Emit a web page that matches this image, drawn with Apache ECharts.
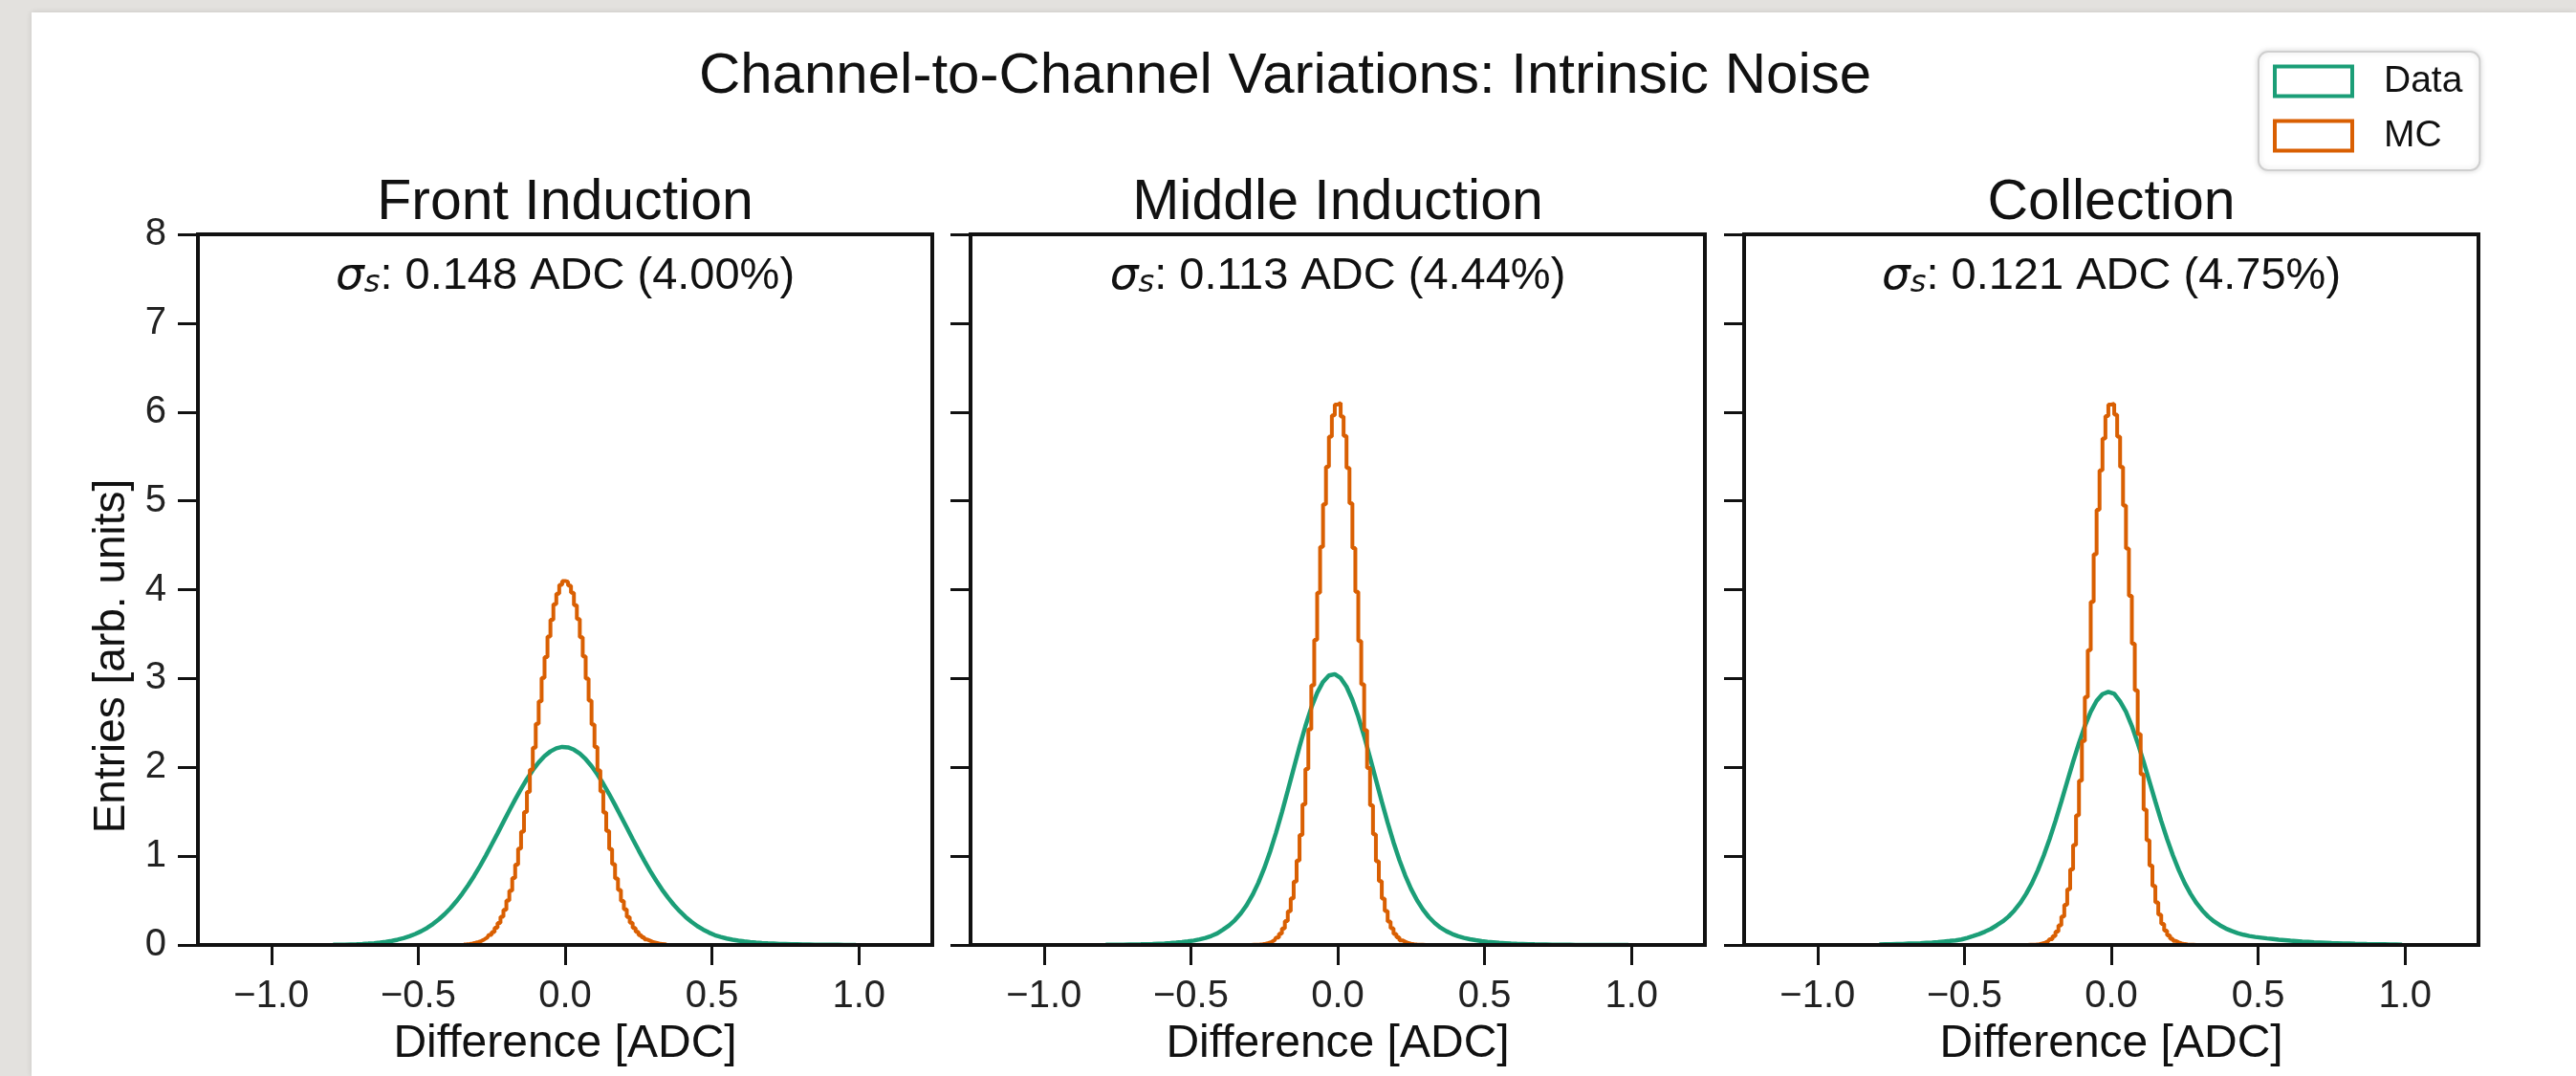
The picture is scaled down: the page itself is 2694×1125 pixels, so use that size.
<!DOCTYPE html>
<html>
<head>
<meta charset="utf-8">
<title>Channel-to-Channel Variations: Intrinsic Noise</title>
<script src="https://cdn.jsdelivr.net/npm/echarts@6/dist/echarts.min.js"></script>
<style>
  html, body { margin: 0; padding: 0; background: #e3e1de; overflow: hidden; }
  #card { position: absolute; left: 33px; top: 13px; width: 2661px; height: 1112px; background: #fff; box-shadow: 0 0 6px rgba(0,0,0,0.12); }
  #chart { position: absolute; left: 0; top: 0; width: 2694px; height: 1125px; }
</style>
</head>
<body>
<div id="card"></div>
<div id="chart"></div>
<script>
  // panels and labels
  var mainTitle = 'Channel-to-Channel Variations: Intrinsic Noise'
  var panelTitles = ['Front Induction', 'Middle Induction', 'Collection']
  var sigmaLabels = ['0.148 ADC (4.00%)', '0.113 ADC (4.44%)', '0.121 ADC (4.75%)']
  var xTicks = [-1.0, -0.5, 0.0, 0.5, 1.0]

  // histogram binning (first bin centre, bin width)
  var dataStart = -0.79, dataBin = 0.02
  var mcStart = -0.345, mcBin = 0.01

  // Data histograms (green), bin centres -0.79 .. 0.99
  var frontData = [
    0.002, 0.003, 0.004, 0.006, 0.008, 0.011, 0.015, 0.020, 0.027, 0.035,
    0.046, 0.060, 0.077, 0.098, 0.124, 0.155, 0.192, 0.236, 0.288, 0.347,
    0.415, 0.492, 0.578, 0.673, 0.776, 0.888, 1.006, 1.130, 1.256, 1.385,
    1.513, 1.638, 1.757, 1.868, 1.968, 2.055, 2.126, 2.179, 2.214, 2.230,
    2.224, 2.199, 2.155, 2.092, 2.013, 1.919, 1.814, 1.698, 1.576, 1.449,
    1.321, 1.193, 1.068, 0.947, 0.831, 0.724, 0.624, 0.534, 0.452, 0.380,
    0.316, 0.261, 0.213, 0.173, 0.139, 0.110, 0.090, 0.073, 0.060, 0.049,
    0.040, 0.033, 0.027, 0.022, 0.018, 0.015, 0.012, 0.010, 0.008, 0.007,
    0.006, 0.005, 0.004, 0.003, 0.003, 0.002, 0.002, 0.001, 0.001, 0.001
  ]
  var middleData = [
    0.002, 0.002, 0.003, 0.004, 0.005, 0.006, 0.007, 0.009, 0.011, 0.014,
    0.017, 0.021, 0.026, 0.032, 0.040, 0.050, 0.063, 0.080, 0.102, 0.130,
    0.173, 0.220, 0.279, 0.355, 0.448, 0.563, 0.701, 0.865, 1.052, 1.263,
    1.493, 1.737, 1.986, 2.232, 2.463, 2.670, 2.839, 2.962, 3.034, 3.048,
    3.005, 2.907, 2.759, 2.570, 2.350, 2.110, 1.861, 1.613, 1.376, 1.155,
    0.955, 0.780, 0.629, 0.503, 0.400, 0.315, 0.248, 0.195, 0.155, 0.123,
    0.098, 0.079, 0.064, 0.053, 0.043, 0.035, 0.030, 0.024, 0.020, 0.016,
    0.013, 0.011, 0.009, 0.007, 0.006, 0.005, 0.004, 0.003, 0.002, 0.002,
    0.001, 0.001, 0.001, 0.001, 0.001, 0, 0, 0, 0, 0
  ]
  var collectionData = [
    0.006, 0.007, 0.008, 0.010, 0.012, 0.015, 0.017, 0.020, 0.024, 0.028,
    0.033, 0.039, 0.045, 0.052, 0.062, 0.080, 0.100, 0.122, 0.150, 0.180,
    0.221, 0.265, 0.319, 0.388, 0.472, 0.575, 0.696, 0.841, 1.007, 1.193,
    1.396, 1.615, 1.839, 2.062, 2.273, 2.465, 2.626, 2.748, 2.824, 2.850,
    2.828, 2.741, 2.626, 2.465, 2.273, 2.062, 1.839, 1.615, 1.396, 1.193,
    1.007, 0.841, 0.696, 0.575, 0.472, 0.388, 0.319, 0.265, 0.221, 0.185,
    0.157, 0.134, 0.115, 0.101, 0.090, 0.082, 0.074, 0.067, 0.060, 0.054,
    0.048, 0.043, 0.038, 0.034, 0.030, 0.027, 0.024, 0.021, 0.019, 0.017,
    0.015, 0.013, 0.012, 0.010, 0.009, 0.008, 0.007, 0.006, 0.005, 0.004
  ]

  // MC histograms (orange), bin centres -0.345 .. 0.345
  var frontMC = [
    0.006, 0.008, 0.012, 0.017, 0.024, 0.034, 0.045, 0.063, 0.083, 0.113,
    0.146, 0.193, 0.247, 0.318, 0.397, 0.500, 0.612, 0.754, 0.904, 1.086,
    1.276, 1.497, 1.722, 1.974, 2.222, 2.491, 2.743, 3.008, 3.241, 3.472,
    3.661, 3.836, 3.955, 4.053, 4.098,
    4.090, 4.046, 3.964, 3.826, 3.669, 3.463, 3.250, 2.998, 2.751, 2.483,
    2.230, 1.966, 1.729, 1.490, 1.283, 1.080, 0.910, 0.748, 0.618, 0.495,
    0.401, 0.314, 0.250, 0.190, 0.149, 0.110, 0.085, 0.061, 0.047, 0.032,
    0.025, 0.016, 0.012, 0.008, 0.005
  ]
  var middleMC = [
    0, 0, 0, 0, 0, 0.001, 0.002, 0.003, 0.005, 0.008,
    0.013, 0.022, 0.035, 0.054, 0.084, 0.126, 0.186, 0.268, 0.379, 0.526,
    0.714, 0.950, 1.238, 1.582, 1.980, 2.429, 2.923, 3.436, 3.964, 4.481,
    4.961, 5.383, 5.723, 5.962, 6.084,
    6.101, 5.948, 5.731, 5.371, 4.972, 4.468, 3.975, 3.421, 2.935, 2.418,
    1.992, 1.571, 1.246, 0.943, 0.719, 0.521, 0.383, 0.264, 0.189, 0.124,
    0.086, 0.052, 0.036, 0.021, 0.014, 0.008, 0.005, 0.003, 0.002, 0.001,
    0, 0, 0, 0, 0
  ]
  var collectionMC = [
    0, 0, 0, 0, 0, 0, 0.001, 0.002, 0.003, 0.005,
    0.009, 0.016, 0.026, 0.041, 0.065, 0.100, 0.150, 0.222, 0.321, 0.451,
    0.628, 0.850, 1.126, 1.460, 1.849, 2.296, 2.791, 3.319, 3.862, 4.399,
    4.900, 5.343, 5.701, 5.954, 6.084,
    6.092, 5.970, 5.722, 5.381, 4.947, 4.462, 3.930, 3.392, 2.868, 2.375,
    1.921, 1.523, 1.180, 0.895, 0.664, 0.480, 0.343, 0.238, 0.162, 0.109,
    0.071, 0.045, 0.029, 0.018, 0.010, 0.006, 0.003, 0.002, 0.001, 0,
    0, 0, 0, 0, 0
  ]

  var dataSets = [frontData, middleData, collectionData]
  var mcSets = [frontMC, middleMC, collectionMC]

  var GREEN = '#1b9e77'
  var ORANGE = '#d95f02'
  var INK = '#111'
  var FONT = '"Liberation Sans", Arial, Helvetica, sans-serif'

  // layout of the three panels
  var gridLeft = [207, 1015, 1824]
  var gridWidth = 768
  var gridTop = 245
  var gridHeight = 743

  function hist (start, width, values) {
    return values.map(function (v, i) {
      return [+(start + i * width).toFixed(4), v]
    })
  }

  function fmtTick (v) {
    return v < 0 ? '\u2212' + (-v).toFixed(1) : Math.abs(v).toFixed(1)
  }

  var grids = [], xAxes = [], yAxes = [], series = []
  var titles = [{
    text: mainTitle, left: 1344, top: 50, textAlign: 'center', padding: 0,
    textStyle: { fontSize: 60, fontWeight: 'normal', color: INK, fontFamily: FONT }
  }]

  for (var i = 0; i < 3; i++) {
    var cx = gridLeft[i] + gridWidth / 2
    grids.push({
      left: gridLeft[i], top: gridTop, width: gridWidth, height: gridHeight,
      show: true, borderColor: INK, borderWidth: 4, backgroundColor: 'transparent'
    })
    xAxes.push({
      type: 'value', gridIndex: i, min: -1.25, max: 1.25, z: 10,
      name: 'Difference [ADC]', nameLocation: 'middle', nameGap: 80,
      nameTextStyle: { fontSize: 48, color: INK, fontFamily: FONT },
      axisLine: { show: true, onZero: false, lineStyle: { color: INK, width: 4 } },
      axisTick: { show: true, length: 21, customValues: xTicks, lineStyle: { color: INK, width: 3 } },
      axisLabel: { margin: 34, fontSize: 40, color: '#222', fontFamily: FONT, customValues: xTicks, formatter: fmtTick },
      splitLine: { show: false }
    })
    yAxes.push({
      type: 'value', gridIndex: i, min: 0, max: 8, interval: 1, z: 10,
      axisLine: { show: true, onZero: false, lineStyle: { color: INK, width: 4 } },
      axisTick: { show: true, length: 21, lineStyle: { color: INK, width: 3 } },
      axisLabel: { show: i === 0, margin: 33, fontSize: 40, color: '#222', fontFamily: FONT },
      splitLine: { show: false }
    })
    // Data: fine-binned, drawn through the bin centres
    series.push({
      name: 'Data', type: 'line', xAxisIndex: i, yAxisIndex: i,
      data: hist(dataStart, dataBin, dataSets[i]),
      showSymbol: false, symbol: 'none', silent: true, z: 2,
      lineStyle: { color: GREEN, width: 4.5 }, itemStyle: { color: GREEN }
    })
    // MC: step histogram
    series.push({
      name: 'MC', type: 'line', xAxisIndex: i, yAxisIndex: i, step: 'middle',
      data: hist(mcStart, mcBin, mcSets[i]),
      showSymbol: false, symbol: 'none', silent: true, z: 3,
      lineStyle: { color: ORANGE, width: 4 }, itemStyle: { color: ORANGE }
    })
    titles.push({
      text: panelTitles[i], left: cx, top: 183, textAlign: 'center', padding: 0,
      textStyle: { fontSize: 59, fontWeight: 'normal', color: INK, fontFamily: FONT }
    })
    titles.push({
      text: '{i|\u03c3}{s|s}: ' + sigmaLabels[i], left: cx, top: 266, textAlign: 'center', padding: 0,
      textStyle: {
        fontSize: 47, fontWeight: 'normal', color: INK, fontFamily: FONT,
        rich: {
          i: { fontSize: 47, fontStyle: 'italic', fontFamily: '"DejaVu Sans"', color: INK },
          s: { fontSize: 32, fontStyle: 'italic', fontFamily: '"DejaVu Sans"', color: INK, lineHeight: 20, verticalAlign: 'bottom' }
        }
      }
    })
  }

  var chart = echarts.init(document.getElementById('chart'))
  chart.setOption({
    animation: false,
    title: titles,
    legend: {
      orient: 'vertical', left: 2362, top: 54, padding: [11, 18, 16, 15],
      itemWidth: 81, itemHeight: 31, itemGap: 17, selectedMode: false,
      backgroundColor: '#fff', borderColor: '#cfcfcf', borderWidth: 2, borderRadius: 10,
      shadowBlur: 6, shadowColor: 'rgba(0,0,0,0.15)',
      textStyle: { fontSize: 39, color: INK, fontFamily: FONT, lineHeight: 40, padding: [0, 0, 0, 28] },
      data: [
        { name: 'Data', icon: 'rect', itemStyle: { color: '#fff', borderColor: GREEN, borderWidth: 4 } },
        { name: 'MC', icon: 'rect', itemStyle: { color: '#fff', borderColor: ORANGE, borderWidth: 4 } }
      ]
    },
    grid: grids,
    xAxis: xAxes,
    yAxis: yAxes,
    series: series,
    graphic: [{
      type: 'text', x: 117, y: 686, rotation: Math.PI / 2,
      style: { text: 'Entries [arb. units]', fontSize: 46, fontFamily: FONT, fill: INK, align: 'center', verticalAlign: 'middle' }
    }]
  })
</script>
</body>
</html>
